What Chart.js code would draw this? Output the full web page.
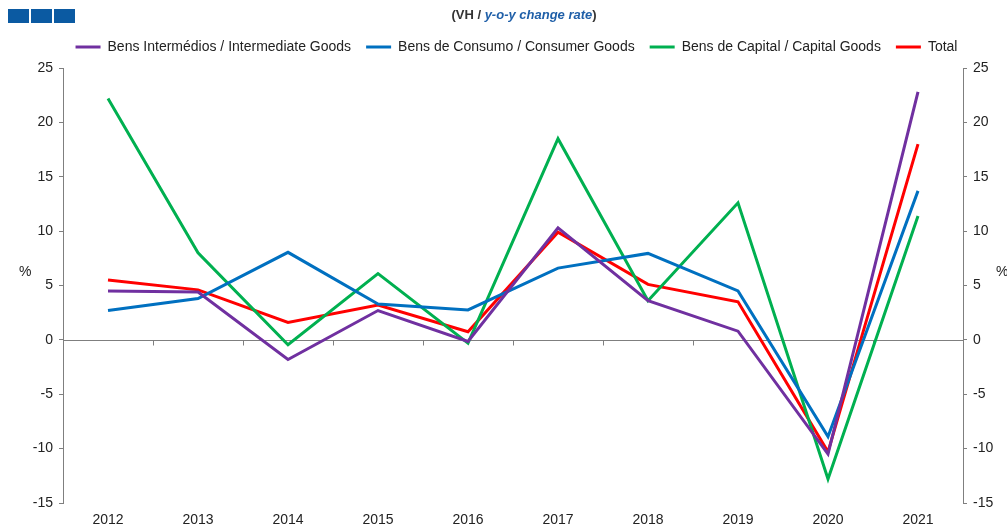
<!DOCTYPE html>
<html><head><meta charset="utf-8">
<script src="https://cdn.jsdelivr.net/npm/chart.js@4.4.1/dist/chart.umd.min.js"></script>
<style>html,body{margin:0;padding:0;background:#fff}#wrap{width:1007px;height:526px;position:relative}</style>
</head><body><div id="wrap"><canvas id="c" width="1007" height="526"></canvas></div>
<script>
const years = ['2012','2013','2014','2015','2016','2017','2018','2019','2020','2021'];
const intermediate = [4.5, 4.4, -1.8, 2.7, -0.15, 10.3, 3.6, 0.8, -10.5, 22.8];
const consumer = [2.7, 3.8, 8.05, 3.3, 2.75, 6.6, 7.95, 4.5, -8.9, 13.7];
const capital = [22.2, 8.0, -0.45, 6.1, -0.3, 18.5, 3.6, 12.6, -12.8, 11.4];
const total = [5.5, 4.6, 1.6, 3.2, 0.75, 9.9, 5.1, 3.5, -10.3, 18.0];
const seriesNames = ['Bens Intermédios / Intermediate Goods','Bens de Consumo / Consumer Goods','Bens de Capital / Capital Goods','Total'];
const seriesColors = ['#7030A0','#0070C0','#00B050','#FF0000'];
const yTicks = [-15,-10,-5,0,5,10,15,20,25];

const FONT = 'Liberation Sans, Arial, sans-serif';

const decor = {
  id:'decor',
  afterLayout(chart){
    const lg = chart.legend;
    if (lg) { lg.left += 13; lg.right += 13; lg.top -= 4; lg.bottom -= 4; }
  },
  beforeDatasetsDraw(chart){
    const ctx = chart.ctx, x = chart.scales.x, y = chart.scales.y;
    const y0 = Math.round(y.getPixelForValue(0)) + 0.5;
    ctx.save();
    ctx.strokeStyle = '#7f7f7f'; ctx.lineWidth = 1;
    ctx.beginPath(); ctx.moveTo(chart.chartArea.left, y0); ctx.lineTo(chart.chartArea.right, y0); ctx.stroke();
    for (let i = 0; i < years.length - 1; i++) {
      const bx = Math.round((x.getPixelForTick(i) + x.getPixelForTick(i+1)) / 2) + 0.5;
      ctx.beginPath(); ctx.moveTo(bx, y0); ctx.lineTo(bx, y0 + 5); ctx.stroke();
    }
    ctx.restore();
  },
  afterDraw(chart){
    const ctx = chart.ctx, y = chart.scales.y;
    ctx.save();
    ctx.fillStyle = '#0B5AA2';
    [8, 31, 54].forEach(sx => ctx.fillRect(sx, 9, 21, 14));
    ctx.textBaseline = 'middle';
    const p1 = '(VH / ', p2 = 'y-o-y change rate', p3 = ')';
    ctx.font = 'bold 13px ' + FONT; const w1 = ctx.measureText(p1).width, w3 = ctx.measureText(p3).width;
    ctx.font = 'italic bold 13px ' + FONT; const w2 = ctx.measureText(p2).width;
    let sx = 524 - (w1 + w2 + w3) / 2;
    ctx.fillStyle = '#333'; ctx.font = 'bold 13px ' + FONT; ctx.fillText(p1, sx, 15); sx += w1;
    ctx.fillStyle = '#1F5FA8'; ctx.font = 'italic bold 13px ' + FONT; ctx.fillText(p2, sx, 15); sx += w2;
    ctx.fillStyle = '#333'; ctx.font = 'bold 13px ' + FONT; ctx.fillText(p3, sx, 15);
    ctx.font = '14px ' + FONT; ctx.fillStyle = '#222'; ctx.textAlign = 'left';
    const yp = y.getPixelForValue(6.2);
    ctx.fillText('%', 19, yp);
    ctx.fillText('%', 996, yp);
    ctx.restore();
  }
};

const mk = (i, data) => ({
  label: seriesNames[i], data, borderColor: seriesColors[i], backgroundColor: seriesColors[i],
  borderWidth: 3, pointRadius: 0, tension: 0, fill: false
});

const yAxis = (pos) => ({
  type:'linear', position: pos, min:-15, max:25,
  afterBuildTicks(s){ s.ticks = yTicks.map(v => ({value:v})); },
  afterFit(s){ s.width = pos === 'left' ? 63 : 44; },
  border:{display:true, color:'#7f7f7f', width:1},
  grid:{drawOnChartArea:false, drawTicks:true, tickLength:4, color:'#7f7f7f'},
  ticks:{font:{family:FONT, size:14}, color:'#222', padding:6}
});

new Chart(document.getElementById('c'), {
  type:'line',
  data:{ labels: years, datasets:[mk(0,intermediate), mk(1,consumer), mk(2,capital), mk(3,total)] },
  plugins:[decor],
  options:{
    responsive:false, animation:false, devicePixelRatio:1,
    layout:{padding:{top:29, left:0, right:0, bottom:0}},
    plugins:{
      tooltip:{enabled:false},
      legend:{
        position:'top', align:'center',
        labels:{
          font:{family:FONT, size:14}, color:'#222', boxWidth:25, boxHeight:3, padding:15,
          generateLabels(chart){
            return chart.data.datasets.map((d,i)=>({text:d.label, fillStyle:d.borderColor, strokeStyle:d.borderColor, lineWidth:0, datasetIndex:i, hidden:false, fontColor:'#222'}));
          }
        }
      }
    },
    scales:{
      x:{
        type:'category', offset:true,
        afterFit(s){ s.height = 23; },
        border:{display:false}, grid:{display:false, drawTicks:false},
        ticks:{font:{family:FONT, size:14}, color:'#222', padding:9, maxRotation:0}
      },
      y: yAxis('left'),
      y2: yAxis('right')
    }
  }
});
</script>
</body></html>
